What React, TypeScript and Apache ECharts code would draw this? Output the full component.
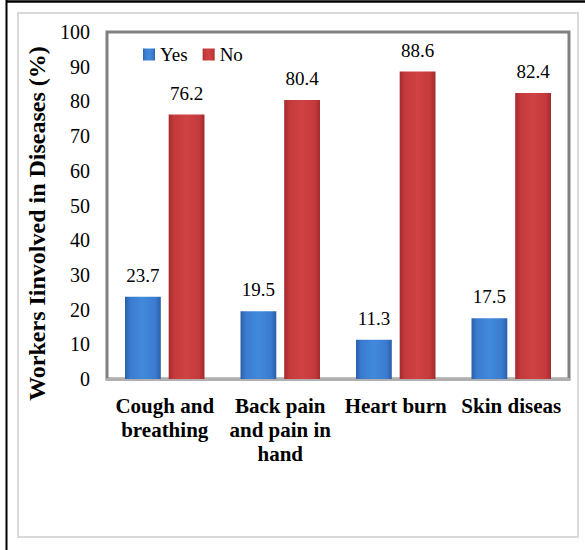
import React, { useEffect, useRef } from "react";
import * as echarts from "echarts";

const categories = ["Cough and\nbreathing", "Back pain\nand pain in\nhand", "Heart burn", "Skin diseas"];
const yesValues = [23.7, 19.5, 11.3, 17.5];
const noValues = [76.2, 80.4, 88.6, 82.4];
const seriesNames = ["Yes", "No"];
const yAxisTitle = "Workers Iinvolved in Diseases (%)";

const FONT = "Liberation Serif";

export default function App() {
  const ref = useRef<HTMLDivElement>(null);
  useEffect(() => {
    if (!ref.current) return;
    const chart = echarts.init(ref.current, null, { renderer: "svg" });
    const blue = new echarts.graphic.LinearGradient(0, 0, 1, 0, [
      { offset: 0, color: "#2b5fa8" },
      { offset: 0.15, color: "#3a7bd0" },
      { offset: 0.5, color: "#4289dc" },
      { offset: 0.85, color: "#3a7bd0" },
      { offset: 1, color: "#2b5fa8" },
    ]);
    const red = new echarts.graphic.LinearGradient(0, 0, 1, 0, [
      { offset: 0, color: "#a32a2c" },
      { offset: 0.15, color: "#c43a3c" },
      { offset: 0.5, color: "#d04244" },
      { offset: 0.85, color: "#c43a3c" },
      { offset: 1, color: "#a32a2c" },
    ]);
    const labelCfg = {
      show: true,
      position: "top" as const,
      distance: 12,
      color: "#000",
      fontFamily: FONT,
      fontSize: 19,
    };
    chart.setOption({
      animation: false,
      backgroundColor: "#fff",
      textStyle: { fontFamily: FONT },
      graphic: [
        { type: "line", shape: { x1: 6.5, y1: 0, x2: 6.5, y2: 550 }, style: { stroke: "#000", lineWidth: 2 } },
        { type: "line", shape: { x1: 6, y1: 1.5, x2: 585, y2: 1.5 }, style: { stroke: "#000", lineWidth: 2.5 } },
        { type: "rect", shape: { x: 18, y: 13, width: 560, height: 524 }, style: { fill: "none", stroke: "#d9d9d9", lineWidth: 2 } },
      ],
      legend: {
        data: seriesNames,
        left: 138,
        top: 40,
        icon: "rect",
        itemWidth: 12,
        itemHeight: 12,
        itemGap: 15,
        textStyle: { fontFamily: FONT, fontSize: 19, color: "#000" },
      },
      grid: {
        left: 107,
        top: 32,
        right: 16,
        bottom: 171,
        show: true,
        borderColor: "#808080",
        borderWidth: 3,
        containLabel: false,
      },
      xAxis: {
        type: "category",
        data: categories,
        axisLine: { show: true, lineStyle: { color: "#b0b0b0", width: 3 } },
        axisTick: { show: false },
        axisLabel: {
          color: "#000",
          fontFamily: FONT,
          fontSize: 21,
          fontWeight: "bold",
          lineHeight: 24,
          margin: 15,
          interval: 0,
        },
      },
      yAxis: {
        type: "value",
        min: 0,
        max: 100,
        interval: 10,
        name: yAxisTitle,
        nameLocation: "middle",
        nameGap: 53,
        nameTextStyle: {
          fontFamily: FONT,
          fontSize: 24,
          fontWeight: "bold",
          color: "#000",
          padding: [0, 36, 0, 0],
        },
        axisLine: { show: false },
        axisTick: { show: false },
        splitLine: { show: false },
        axisLabel: { color: "#000", fontFamily: FONT, fontSize: 20, margin: 17 },
      },
      series: [
        {
          name: seriesNames[0],
          type: "bar",
          data: yesValues,
          barWidth: "31%",
          barGap: "22%",
          itemStyle: { color: blue },
          label: labelCfg,
        },
        {
          name: seriesNames[1],
          type: "bar",
          data: noValues,
          barWidth: "31%",
          itemStyle: { color: red },
          label: labelCfg,
        },
      ],
    });
    return () => chart.dispose();
  }, []);
  return (
    <div
      ref={ref}
      style={{ position: "absolute", left: 0, top: 0, width: 585, height: 550 }}
    />
  );
}
